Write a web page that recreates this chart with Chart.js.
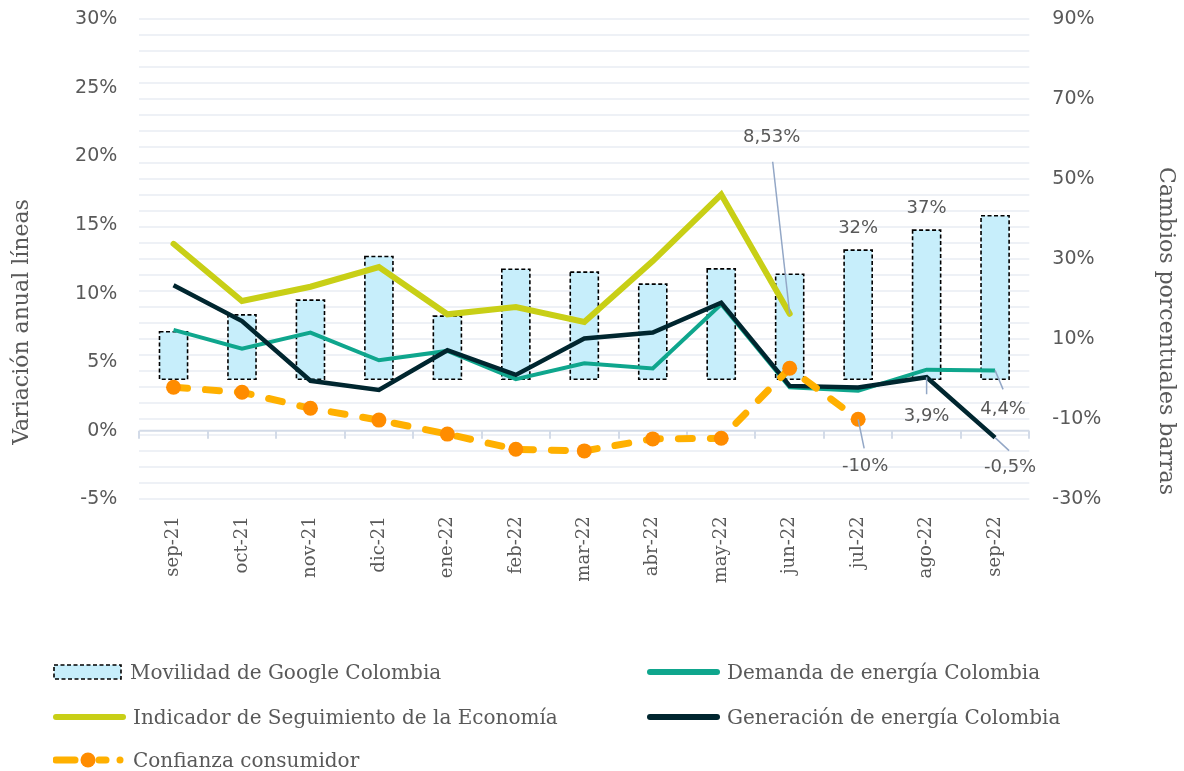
<!DOCTYPE html>
<html>
<head>
<meta charset="utf-8">
<script src="https://cdn.jsdelivr.net/npm/chart.js@4"></script>
<style>
    html, body { margin: 0; padding: 0; background: #ffffff; }
    #wrap { position: relative; width: 1184px; height: 771px; overflow: hidden; }
    #chart { position: absolute; left: 0; top: 0; }
    .legend-item {
        position: absolute;
        height: 22px;
        display: flex;
        align-items: center;
        font-family: "DejaVu Serif", serif;
        font-size: 20px;
        color: #595959;
        white-space: nowrap;
    }
    .legend-item svg { margin-right: 7px; flex: none; }
</style>
</head>
<body>
<div id="wrap">
    <canvas id="chart" width="1184" height="771"></canvas>
    <div id="legend"></div>
</div>
<script>

/*
  Movilidad, energia, ISE y confianza - Colombia
*/

const months = ["sep-21", "oct-21", "nov-21", "dic-21", "ene-22", "feb-22", "mar-22",
    "abr-22", "may-22", "jun-22", "jul-22", "ago-22", "sep-22"]

// barras, eje derecho
const movilidad = [11.9, 16.1, 19.8, 30.7, 15.8, 27.5, 26.8, 23.8, 27.6, 26.25, 32.3, 37.3, 40.9]

// lineas, eje izquierdo
const demanda = [7.35, 5.99, 7.16, 5.14, 5.82, 3.76, 4.92, 4.54, 9.22, 3.16, 2.91, 4.45, 4.4]
const generacion = [10.6, 8.0, 3.64, 2.98, 5.87, 4.07, 6.72, 7.16, 9.34, 3.27, 3.15, 3.9, -0.5]
const ise = [13.63, 9.46, 10.5, 11.93, 8.49, 9.02, 7.93, 12.37, 17.22, 8.53, null, null, null]

// confianza consumidor, eje derecho
const confianza = [-2.0, -3.25, -7.25, -10.2, -13.7, -17.5, -17.9, -14.9, -14.75, 2.75, -10, null, null]

const leftTicks = [-5, 0, 5, 10, 15, 20, 25, 30]
const rightTicks = [-30, -10, 10, 30, 50, 70, 90]

const textGrey = "#595959"
const leaderColor = "#93a7c6"
const tickFont = { family: "DejaVu Sans", size: 19 }
const serif = "DejaVu Serif"

const colors = {
    barFill: "#c7eefb",
    demanda: "#0fa68d",
    generacion: "#00262f",
    ise: "#c8cf16",
    confianza: "#ffb000",
    confianzaPoint: "#ff8c00"
}

// etiquetas de datos: serie, indice, desplazamiento del texto y de la guia
const pointLabels = [
    { data: ise, ds: 3, i: 9, dx: -18, dy: -176, leader: [-17, -152] },
    { data: confianza, ds: 4, i: 10, dx: 7, dy: 47, leader: [6, 29] },
    { data: generacion, ds: 2, i: 11, dx: 0, dy: 39, leader: [0, 17] },
    { data: demanda, ds: 1, i: 12, dx: 8, dy: 39, leader: [8, 19] },
    { data: generacion, ds: 2, i: 12, dx: 15, dy: 30, leader: [14, 13] }
]

const barLabels = [10, 11]

const fmt = v => String(v).replace(".", ",") + "%"

// sin relleno extra de etiquetas: el area del grafico la fija el layout
const noPad = s => {
    s.paddingTop = 0
    s.paddingBottom = 0
    s.paddingLeft = 0
    s.paddingRight = 0
}

const chartPlugin = {

    id: "chartExtras",

    beforeDatasetsDraw(chart) {

        const ctx = chart.ctx
        const area = chart.chartArea
        const y0 = chart.scales.y.getPixelForValue(0)
        const step = area.width / months.length

        ctx.save()
        ctx.strokeStyle = "#d3dbe8"
        ctx.lineWidth = 2
        ctx.beginPath()
        ctx.moveTo(area.left, y0)
        ctx.lineTo(area.right, y0)

        for (let i = 0; i <= months.length; i++) {
            const x = Math.round(area.left + i * step)
            ctx.moveTo(x, y0)
            ctx.lineTo(x, y0 + 8)
        }

        ctx.stroke()
        ctx.restore()

    },

    afterDatasetDraw(chart, args) {

        if (args.index !== 0) {
            return
        }

        const ctx = chart.ctx

        ctx.save()
        ctx.strokeStyle = "#000000"
        ctx.lineWidth = 1.6
        ctx.setLineDash([4, 2.5])

        args.meta.data.forEach(bar => {
            const w = bar.width
            ctx.strokeRect(bar.x - w / 2, bar.y, w, bar.base - bar.y)
        })

        ctx.restore()

    },

    afterDatasetsDraw(chart) {

        const ctx = chart.ctx

        ctx.save()
        ctx.font = "18px 'DejaVu Sans'"
        ctx.fillStyle = textGrey
        ctx.textAlign = "center"
        ctx.textBaseline = "middle"

        pointLabels.forEach(lab => {

            const pt = chart.getDatasetMeta(lab.ds).data[lab.i]

            ctx.strokeStyle = leaderColor
            ctx.lineWidth = 1.5
            ctx.beginPath()
            ctx.moveTo(pt.x, pt.y)
            ctx.lineTo(pt.x + lab.leader[0], pt.y + lab.leader[1])
            ctx.stroke()

            ctx.fillText(fmt(lab.data[lab.i]), pt.x + lab.dx, pt.y + lab.dy)

        })

        const bars = chart.getDatasetMeta(0).data

        barLabels.forEach(i => {
            ctx.fillText(Math.round(movilidad[i]) + "%", bars[i].x, bars[i].y - 22)
        })

        ctx.restore()

    },

    afterDraw(chart) {

        const ctx = chart.ctx

        ctx.save()
        ctx.font = "22px '" + serif + "'"
        ctx.fillStyle = textGrey
        ctx.textAlign = "center"
        ctx.textBaseline = "middle"

        ctx.translate(22, 322)
        ctx.rotate(-Math.PI / 2)
        ctx.fillText("Variación anual líneas", 0, 0)
        ctx.restore()

        ctx.save()
        ctx.font = "22px '" + serif + "'"
        ctx.fillStyle = textGrey
        ctx.textAlign = "center"
        ctx.textBaseline = "middle"
        ctx.translate(1166, 331)
        ctx.rotate(Math.PI / 2)
        ctx.fillText("Cambios porcentuales barras", 0, 0)
        ctx.restore()

    }

}

const chart = new Chart(document.getElementById("chart"), {

    type: "bar",

    data: {

        labels: months,

        datasets: [

            {
                label: "Movilidad de Google Colombia",
                data: movilidad,
                yAxisID: "y1",
                backgroundColor: colors.barFill,
                borderWidth: 0,
                categoryPercentage: 1,
                barPercentage: 0.41,
                order: 10
            },

            {
                type: "line",
                label: "Demanda de energía Colombia",
                data: demanda,
                yAxisID: "y",
                borderColor: colors.demanda,
                borderWidth: 4,
                pointRadius: 0,
                tension: 0,
                order: 4
            },

            {
                type: "line",
                label: "Generación de energía Colombia",
                data: generacion,
                yAxisID: "y",
                borderColor: colors.generacion,
                borderWidth: 4.5,
                pointRadius: 0,
                tension: 0,
                order: 3
            },

            {
                type: "line",
                label: "Indicador de Seguimiento de la Economía",
                data: ise,
                yAxisID: "y",
                borderColor: colors.ise,
                borderWidth: 6,
                borderCapStyle: "round",
                pointRadius: 0,
                tension: 0,
                order: 2
            },

            {
                type: "line",
                label: "Confianza consumidor",
                data: confianza,
                yAxisID: "y1",
                borderColor: colors.confianza,
                borderWidth: 7,
                borderDash: [14, 18],
                borderCapStyle: "round",
                pointRadius: 7.5,
                pointBackgroundColor: colors.confianzaPoint,
                pointBorderWidth: 0,
                tension: 0,
                order: 1
            }

        ]

    },

    options: {

        responsive: false,
        devicePixelRatio: 1,
        animation: false,

        layout: {
            padding: { top: 19.3, bottom: 0, left: 0, right: 0 }
        },

        plugins: {
            legend: { display: false },
            tooltip: { enabled: false }
        },

        scales: {

            x: {
                grid: { display: false, drawTicks: false },
                border: { display: false },
                ticks: {
                    minRotation: 90,
                    maxRotation: 90,
                    padding: 17,
                    color: textGrey,
                    font: { family: serif, size: 18 }
                },
                afterFit: s => {
                    s.height = 771 - 499.3
                    noPad(s)
                }
            },

            grid: {
                type: "linear",
                position: "left",
                min: 0,
                max: 30,
                ticks: { display: false, stepSize: 1 },
                grid: { color: "#eef1f6", lineWidth: 2, drawTicks: false },
                border: { display: false },
                afterFit: s => {
                    s.width = 0
                    noPad(s)
                }
            },

            y: {
                type: "linear",
                position: "left",
                min: -5,
                max: 30,
                grid: { display: false, drawTicks: false },
                border: { display: false },
                ticks: {
                    padding: 22,
                    color: textGrey,
                    font: tickFont,
                    callback: v => v + "%"
                },
                afterBuildTicks: s => { s.ticks = leftTicks.map(v => ({ value: v })) },
                afterFit: s => {
                    s.width = 139.3
                    noPad(s)
                }
            },

            y1: {
                type: "linear",
                position: "right",
                min: -30,
                max: 90,
                grid: { display: false, drawTicks: false },
                border: { display: false },
                ticks: {
                    padding: 23,
                    color: textGrey,
                    font: tickFont,
                    callback: v => v + "%"
                },
                afterBuildTicks: s => { s.ticks = rightTicks.map(v => ({ value: v })) },
                afterFit: s => {
                    s.width = 1184 - 1029.3
                    noPad(s)
                }
            }

        }

    },

    plugins: [chartPlugin]

})

// leyenda en html
const legendItems = [
    { text: "Movilidad de Google Colombia", x: 53, y: 672, kind: "box" },
    { text: "Demanda de energía Colombia", x: 647, y: 672, kind: "line", color: colors.demanda },
    { text: "Indicador de Seguimiento de la Economía", x: 53, y: 717, kind: "line", color: colors.ise },
    { text: "Generación de energía Colombia", x: 647, y: 717, kind: "line", color: colors.generacion },
    { text: "Confianza consumidor", x: 53, y: 760, kind: "dash" }
]

function marker(item) {

    if (item.kind === "box") {
        return '<svg width="70" height="18"><rect x="1" y="2" width="67" height="14" fill="' + colors.barFill +
            '" stroke="#000" stroke-width="1.6" stroke-dasharray="4 2.5"/></svg>'
    }

    if (item.kind === "line") {
        return '<svg width="73" height="18"><line x1="3" y1="9" x2="70" y2="9" stroke="' + item.color +
            '" stroke-width="6" stroke-linecap="round"/></svg>'
    }

    return '<svg width="73" height="18">' +
        '<line x1="3" y1="9" x2="22" y2="9" stroke="' + colors.confianza + '" stroke-width="7" stroke-linecap="round"/>' +
        '<line x1="46" y1="9" x2="53" y2="9" stroke="' + colors.confianza + '" stroke-width="7" stroke-linecap="round"/>' +
        '<circle cx="67" cy="9" r="3.5" fill="' + colors.confianza + '"/>' +
        '<circle cx="35" cy="9" r="7.5" fill="' + colors.confianzaPoint + '"/></svg>'

}

document.getElementById("legend").innerHTML = legendItems.map(item =>
    '<div class="legend-item" style="left:' + item.x + 'px;top:' + (item.y - 11) + 'px">' +
    marker(item) + item.text + '</div>'
).join("")

</script>
</body>
</html>
